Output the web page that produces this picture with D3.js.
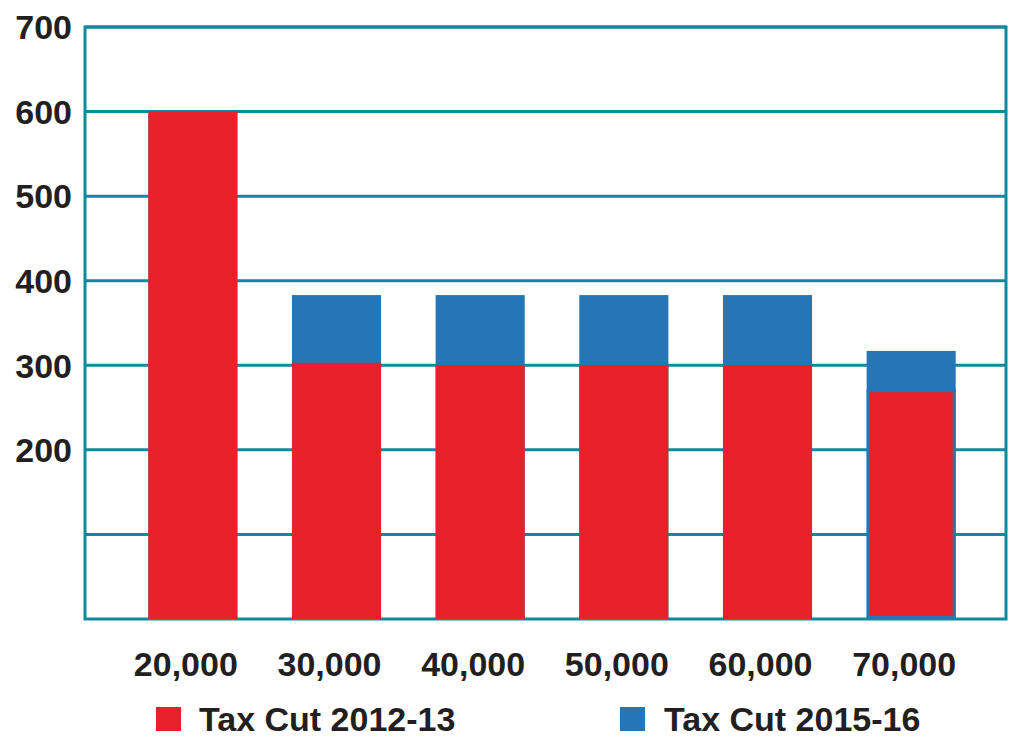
<!DOCTYPE html>
<html>
<head>
<meta charset="utf-8">
<script src="https://cdn.jsdelivr.net/npm/d3@7.9.0/dist/d3.min.js"></script>
<style>
  body { margin: 0; background: #fff; }
  svg text { font-family: "Liberation Sans", Arial, sans-serif; font-weight: bold; fill: #231f20; }
</style>
</head>
<body>
<svg id="chart" width="1013" height="739"></svg>
<script>
// income levels and tax cut values ($)
const incomes = ["20,000", "30,000", "40,000", "50,000", "60,000", "70,000"];
const cut2012 = [600, 303, 300, 300, 300, 270];
const cut2015 = [600, 383, 383, 383, 383, 317];
const gridTicks = [100, 200, 300, 400, 500, 600, 700];
const labelTicks = [200, 300, 400, 500, 600, 700];
const seriesNames = ["Tax Cut 2012-13", "Tax Cut 2015-16"];
const outlined = ["70,000"]; // red bar drawn with a blue frame

const red = "#e8202a", blue = "#2476b5", teal = "#0d8a9b";

const svg = d3.select("#chart");
const plotL = 85, plotR = 1006, plotT = 27, plotB = 619;

const x = d3.scaleBand().domain(incomes).range([121, 983]).paddingInner(0.38).paddingOuter(0.19);
const y = d3.scaleLinear().domain([0, 700]).range([plotB, plotT]);

// gridlines
svg.append("g").selectAll("line").data(gridTicks).join("line")
  .attr("x1", plotL).attr("x2", plotR)
  .attr("y1", d => y(d)).attr("y2", d => y(d))
  .attr("stroke", teal).attr("stroke-width", 3);

// frame
svg.append("rect")
  .attr("x", plotL).attr("y", plotT)
  .attr("width", plotR - plotL).attr("height", plotB - plotT)
  .attr("fill", "none").attr("stroke", teal).attr("stroke-width", 3);

// 2015-16 bars (behind)
svg.append("g").selectAll("rect").data(incomes).join("rect")
  .attr("x", d => x(d)).attr("width", x.bandwidth())
  .attr("y", (d, i) => y(cut2015[i]))
  .attr("height", (d, i) => y(0) - y(cut2015[i]))
  .attr("fill", blue);

// 2012-13 bars
svg.append("g").selectAll("rect").data(incomes).join("rect")
  .attr("x", d => x(d) + (outlined.includes(d) ? 1.5 : 0))
  .attr("width", d => x.bandwidth() - (outlined.includes(d) ? 3 : 0))
  .attr("y", (d, i) => y(cut2012[i]))
  .attr("height", (d, i) => y(0) - y(cut2012[i]) - (outlined.includes(d) ? 1.5 : 0))
  .attr("fill", red)
  .attr("stroke", d => outlined.includes(d) ? blue : "none")
  .attr("stroke-width", 3);

// y labels
svg.append("g").selectAll("text").data(labelTicks).join("text")
  .attr("x", 72).attr("y", d => y(d))
  .attr("dy", "0.36em")
  .attr("text-anchor", "end")
  .style("font-size", "34px")
  .text(d => d);

// x labels
svg.append("g").selectAll("text").data(incomes).join("text")
  .attr("x", d => x(d) + x.bandwidth() / 2 - 7)
  .attr("y", 676)
  .attr("text-anchor", "middle")
  .style("font-size", "34px")
  .text(d => d);

// legend (nudged up a little so the text box stays inside the page)
const legendX = [156, 620];
const legend = svg.append("g").selectAll("g").data(seriesNames).join("g")
  .attr("transform", (d, i) => `translate(${legendX[i]},707)`);
legend.append("rect").attr("width", 25).attr("height", 24)
  .attr("fill", (d, i) => i === 0 ? red : blue);
legend.append("text").attr("x", (d, i) => i === 0 ? 43 : 44).attr("y", 24)
  .style("font-size", "34px")
  .text(d => d);
</script>
</body>
</html>
